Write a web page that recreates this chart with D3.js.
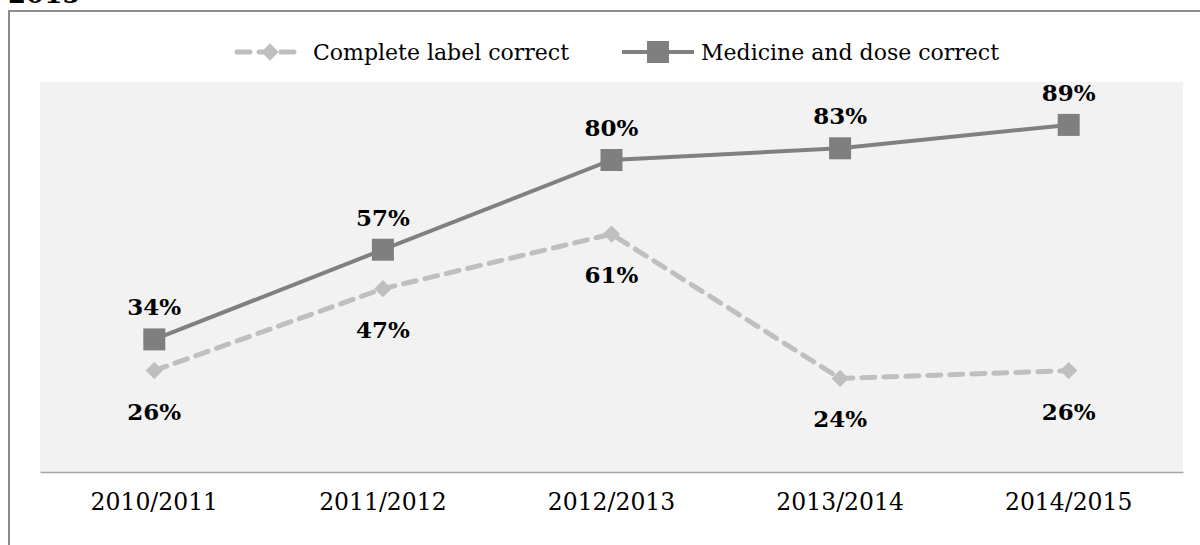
<!DOCTYPE html>
<html>
  <head>
    <meta charset="utf-8">
    <title>label correctness</title>
    <script type="text/javascript" src="https://cdn.jsdelivr.net/npm/d3@7"></script>
    <style type="text/css">
      body { margin: 0; background: #fff; }
    </style>
  </head>
  <body>
    <script type="text/javascript">
      // data
      var years = ["2010/2011", "2011/2012", "2012/2013", "2013/2014", "2014/2015"];
      var complete = [26, 47, 61, 24, 26];   // Complete label correct
      var medicine = [34, 57, 80, 83, 89];   // Medicine and dose correct
      var seriesNames = ["Complete label correct", "Medicine and dose correct"];

      var w = 1200, h = 545;
      var font = "'DejaVu Serif', serif";

      var svg = d3.select("body").append("svg")
                  .attr("width", w).attr("height", h);

      // cut-off title from the page above
      svg.append("text").attr("x", 8).attr("y", 3)
         .attr("font-family", font).attr("font-weight", "bold")
         .attr("font-size", 26).attr("fill", "#000").text("2015");

      // chart frame
      svg.append("rect").attr("x", 9).attr("y", 11)
         .attr("width", w).attr("height", h)
         .attr("fill", "none").attr("stroke", "#8c8c8c").attr("stroke-width", 2);

      var pLeft = 40, pRight = 1183, pTop = 82, pBottom = 472;

      var x = d3.scaleBand().domain(years).range([pLeft, pRight]);
      var y = d3.scaleLinear().domain([0, 100]).range([pBottom, pTop]);

      svg.append("rect").attr("x", pLeft).attr("y", pTop)
         .attr("width", pRight - pLeft).attr("height", pBottom - pTop)
         .attr("fill", "#f2f2f2");

      var xAxis = svg.append("g").attr("transform", "translate(0," + pBottom + ")")
                     .call(d3.axisBottom(x).tickSize(0).tickPadding(21));
      xAxis.select(".domain").attr("stroke", "#a6a6a6").attr("stroke-width", 1.5);
      xAxis.selectAll("text").attr("font-family", font).attr("font-size", 23.5)
           .attr("fill", "#000");

      var cx = function(d, i) { return x(years[i]) + x.bandwidth() / 2; };
      var line = d3.line().x(cx).y(function(d) { return y(d); });
      var diamond = d3.symbol().type(d3.symbolSquare).size(150);

      // complete label correct, dashed
      svg.append("path").datum(complete).attr("d", line)
         .attr("fill", "none").attr("stroke", "#bfbfbf").attr("stroke-width", 5)
         .attr("stroke-dasharray", "13,9").attr("stroke-linecap", "round");
      svg.selectAll(".dia").data(complete).enter().append("path")
         .attr("class", "dia")
         .attr("d", diamond)
         .attr("transform", function(d, i) { return "translate(" + cx(d, i) + "," + y(d) + ") rotate(45)"; })
         .attr("fill", "#bfbfbf");

      // medicine and dose correct, solid
      svg.append("path").datum(medicine).attr("d", line)
         .attr("fill", "none").attr("stroke", "#808080").attr("stroke-width", 4);
      svg.selectAll(".sq").data(medicine).enter().append("rect")
         .attr("class", "sq")
         .attr("x", function(d, i) { return cx(d, i) - 11; })
         .attr("y", function(d) { return y(d) - 11; })
         .attr("width", 22).attr("height", 22).attr("fill", "#7f7f7f");

      // value labels
      svg.selectAll(".lm").data(medicine).enter().append("text")
         .attr("x", cx).attr("y", function(d) { return y(d) - 24; })
         .attr("text-anchor", "middle").attr("font-family", font)
         .attr("font-weight", "bold").attr("font-size", 23)
         .text(function(d) { return d + "%"; });
      svg.selectAll(".lc").data(complete).enter().append("text")
         .attr("x", cx).attr("y", function(d) { return y(d) + 49; })
         .attr("text-anchor", "middle").attr("font-family", font)
         .attr("font-weight", "bold").attr("font-size", 23)
         .text(function(d) { return d + "%"; });

      // legend
      var lg = svg.append("g");
      lg.append("line").attr("x1", 237).attr("x2", 303).attr("y1", 52).attr("y2", 52)
        .attr("stroke", "#bfbfbf").attr("stroke-width", 5)
        .attr("stroke-dasharray", "13,9").attr("stroke-linecap", "round");
      lg.append("path").attr("d", diamond)
        .attr("transform", "translate(270,52) rotate(45)").attr("fill", "#bfbfbf");
      lg.append("text").attr("x", 313).attr("y", 60).attr("font-family", font)
        .attr("font-size", 22).text(seriesNames[0]);
      lg.append("line").attr("x1", 622).attr("x2", 694).attr("y1", 52).attr("y2", 52)
        .attr("stroke", "#808080").attr("stroke-width", 4);
      lg.append("rect").attr("x", 647).attr("y", 41).attr("width", 22).attr("height", 22)
        .attr("fill", "#7f7f7f");
      lg.append("text").attr("x", 701).attr("y", 60).attr("font-family", font)
        .attr("font-size", 22).text(seriesNames[1]);
    </script>
  </body>
</html>
